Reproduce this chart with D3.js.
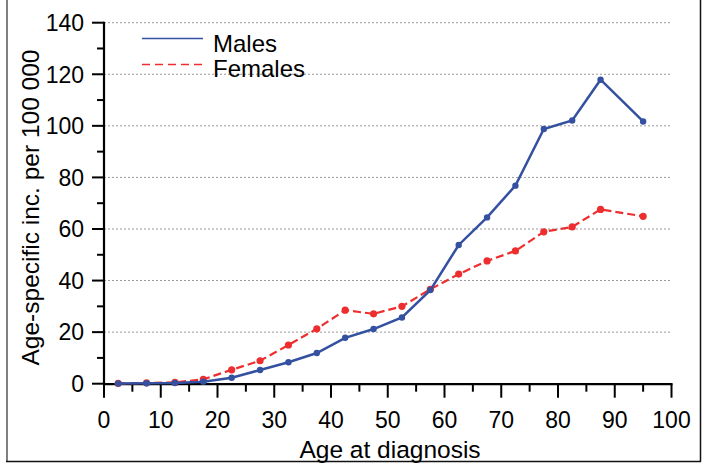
<!DOCTYPE html>
<html>
<head>
<meta charset="utf-8">
<script src="https://cdn.jsdelivr.net/npm/d3@7"></script>
<style>
  html, body { margin: 0; padding: 0; background: #fff; }
  svg { display: block; font-family: "Liberation Sans", Arial, sans-serif; }
</style>
</head>
<body>
<svg id="chart" width="710" height="464"></svg>
<script>
const ages = [2.5, 7.5, 12.5, 17.5, 22.5, 27.5, 32.5, 37.5, 42.5, 47.5, 52.5, 57.5, 62.5, 67.5, 72.5, 77.5, 82.5, 87.5, 95];
const males = [0.1, 0.2, 0.3, 0.8, 2.3, 5.3, 8.3, 11.9, 17.8, 21.2, 25.7, 36.3, 53.8, 64.5, 76.8, 98.8, 102.1, 117.9, 101.7];
const females = [0.1, 0.3, 0.5, 1.7, 5.4, 8.9, 15.0, 21.3, 28.5, 27.1, 30.0, 36.6, 42.5, 47.6, 51.5, 58.9, 60.8, 67.6, 64.9];
const xTicks = [0, 10, 20, 30, 40, 50, 60, 70, 80, 90, 100];
const yTicks = [0, 20, 40, 60, 80, 100, 120, 140];
const seriesNames = ["Males", "Females"];
const xLabel = "Age at diagnosis";
const yLabel = "Age-specific inc. per 100 000";

const svg = d3.select("#chart");
const x = d3.scaleLinear().domain([0, 100]).range([104, 671.5]);
const y = d3.scaleLinear().domain([0, 140]).range([383.7, 22.7]);

// frame
svg.append("line").attr("x1", 7).attr("x2", 7).attr("y1", -5).attr("y2", 461.5)
  .attr("stroke", "#808080").attr("stroke-width", 2);
svg.append("line").attr("x1", 700.5).attr("x2", 700.5).attr("y1", -5).attr("y2", 461.5)
  .attr("stroke", "#111").attr("stroke-width", 1.5);
svg.append("line").attr("x1", 6).attr("x2", 701).attr("y1", 461.5).attr("y2", 461.5)
  .attr("stroke", "#111").attr("stroke-width", 1.5);

// gridlines
svg.append("g").selectAll("line").data(yTicks.filter(d => d > 0)).join("line")
  .attr("x1", x(0)).attr("x2", x(100))
  .attr("y1", d => y(d)).attr("y2", d => y(d))
  .attr("stroke", "#999").attr("stroke-width", 1).attr("stroke-dasharray", "2,2");

// y axis
const yMinor = d3.range(10, 140, 20);
svg.append("g").selectAll("line").data(yMinor).join("line")
  .attr("x1", x(0) - 7).attr("x2", x(0)).attr("y1", d => y(d)).attr("y2", d => y(d))
  .attr("stroke", "#000").attr("stroke-width", 2);
svg.append("g").selectAll("line").data(yTicks).join("line")
  .attr("x1", x(0) - 12).attr("x2", x(0)).attr("y1", d => y(d)).attr("y2", d => y(d))
  .attr("stroke", "#000").attr("stroke-width", 2);
svg.append("line").attr("x1", x(0)).attr("x2", x(0)).attr("y1", y(140) - 1).attr("y2", y(0) + 1)
  .attr("stroke", "#000").attr("stroke-width", 2.2);
svg.append("g").selectAll("text").data(yTicks).join("text")
  .attr("x", 84).attr("y", d => y(d)).attr("dy", "0.36em")
  .attr("text-anchor", "end").attr("font-size", 23).attr("fill", "#000")
  .text(d => d);

// x axis
const xMinor = d3.range(5, 100, 10);
svg.append("g").selectAll("line").data(xMinor).join("line")
  .attr("x1", d => x(d)).attr("x2", d => x(d)).attr("y1", y(0)).attr("y2", y(0) + 8)
  .attr("stroke", "#000").attr("stroke-width", 2);
svg.append("g").selectAll("line").data(xTicks).join("line")
  .attr("x1", d => x(d)).attr("x2", d => x(d)).attr("y1", y(0)).attr("y2", y(0) + 14)
  .attr("stroke", "#000").attr("stroke-width", 2);
svg.append("line").attr("x1", x(0) - 1).attr("x2", x(100) + 1).attr("y1", y(0) + 0.5).attr("y2", y(0) + 0.5)
  .attr("stroke", "#000").attr("stroke-width", 2.2);
svg.append("g").selectAll("text").data(xTicks).join("text")
  .attr("x", d => x(d)).attr("y", 427.5)
  .attr("text-anchor", "middle").attr("font-size", 23).attr("fill", "#000")
  .text(d => d);

// axis labels
svg.append("text").attr("x", 390).attr("y", 457.5)
  .attr("text-anchor", "middle").attr("font-size", 24.5).attr("fill", "#000").text(xLabel);
svg.append("text").attr("transform", "translate(38.5,207.5) rotate(-90)")
  .attr("text-anchor", "middle").attr("font-size", 24.5).attr("fill", "#000").text(yLabel);

// series
const line = d3.line().x((d, i) => x(ages[i])).y(d => y(d));
const blue = "#3450a0", red = "#ee2e2e";
svg.append("path").datum(females).attr("d", line)
  .attr("fill", "none").attr("stroke", red).attr("stroke-width", 2.2).attr("stroke-dasharray", "8,4");
svg.append("g").selectAll("circle").data(females).join("circle")
  .attr("cx", (d, i) => x(ages[i])).attr("cy", d => y(d)).attr("r", 3.6).attr("fill", red);
svg.append("path").datum(males).attr("d", line)
  .attr("fill", "none").attr("stroke", blue).attr("stroke-width", 2.5);
svg.append("g").selectAll("circle").data(males).join("circle")
  .attr("cx", (d, i) => x(ages[i])).attr("cy", d => y(d)).attr("r", 3.2).attr("fill", blue);

// legend
const leg = svg.append("g");
leg.append("line").attr("x1", 142).attr("x2", 203).attr("y1", 38.5).attr("y2", 38.5)
  .attr("stroke", blue).attr("stroke-width", 1.3);
leg.append("line").attr("x1", 142).attr("x2", 203).attr("y1", 64.5).attr("y2", 64.5)
  .attr("stroke", red).attr("stroke-width", 1.3).attr("stroke-dasharray", "8,5");
leg.append("text").attr("x", 213).attr("y", 52).attr("font-size", 24).attr("fill", "#000").text(seriesNames[0]);
leg.append("text").attr("x", 213).attr("y", 77).attr("font-size", 24).attr("fill", "#000").text(seriesNames[1]);
</script>
</body>
</html>
